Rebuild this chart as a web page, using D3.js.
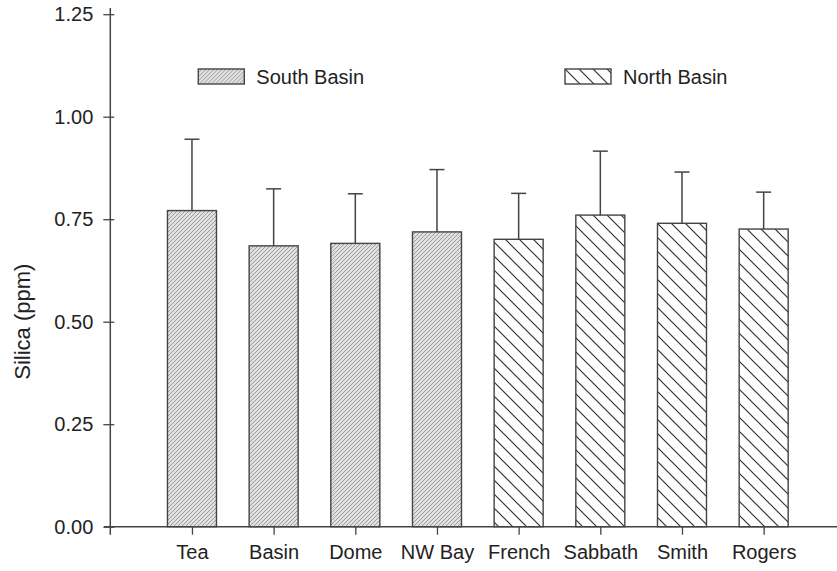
<!DOCTYPE html>
<html>
<head>
<meta charset="utf-8">
<script src="https://cdn.jsdelivr.net/npm/d3@7"></script>
<style>
  body { margin: 0; background: #fff; }
  svg text { font-family: "Liberation Sans", Arial, sans-serif; fill: #222; }
</style>
</head>
<body>
<div id="chart"></div>
<script>
// data
const sites = ["Tea", "Basin", "Dome", "NW Bay", "French", "Sabbath", "Smith", "Rogers"];
const basins = ["South", "South", "South", "South", "North", "North", "North", "North"];
const silica = [0.771, 0.685, 0.691, 0.719, 0.701, 0.760, 0.740, 0.726];
const silicaErr = [0.174, 0.139, 0.121, 0.152, 0.112, 0.156, 0.125, 0.090];
const yTicks = [0, 0.25, 0.5, 0.75, 1.0, 1.25];
const legendItems = ["South Basin", "North Basin"];

const w = 837, h = 571;
const x0 = 110.3, y0 = 526.7;

const svg = d3.select("#chart").append("svg")
  .attr("width", w)
  .attr("height", h);

// hatch patterns
const defs = svg.append("defs");
const south = defs.append("pattern")
  .attr("id", "south")
  .attr("patternUnits", "userSpaceOnUse")
  .attr("width", 4).attr("height", 4);
south.append("rect").attr("width", 4).attr("height", 4).attr("fill", "#e0e0e0");
south.append("path")
  .attr("d", "M-1,1 l2,-2 M0,4 l4,-4 M3,5 l2,-2")
  .attr("stroke", "#959595").attr("stroke-width", 0.9);

const north = defs.append("pattern")
  .attr("id", "north")
  .attr("patternUnits", "userSpaceOnUse")
  .attr("width", 14).attr("height", 14);
north.append("rect").attr("width", 14).attr("height", 14).attr("fill", "#fff");
north.append("path")
  .attr("d", "M-2,-2 L16,16 M-2,12 L2,16 M12,-2 L16,2")
  .attr("stroke", "#333").attr("stroke-width", 1.2);

const fills = { South: "url(#south)", North: "url(#north)" };

const xScale = d3.scalePoint()
  .domain(sites)
  .range([x0, x0 + 9 * 81.67])
  .padding(1);

const yScale = d3.scaleLinear()
  .domain([0, 1.25])
  .range([y0, 14.2]);

const barW = 49;

// bars
svg.selectAll("rect.bar")
  .data(sites)
  .enter()
  .append("rect")
  .attr("class", "bar")
  .attr("x", d => xScale(d) - barW / 2)
  .attr("y", (d, i) => yScale(silica[i]))
  .attr("width", barW)
  .attr("height", (d, i) => y0 - yScale(silica[i]))
  .attr("fill", (d, i) => fills[basins[i]])
  .attr("stroke", "#444")
  .attr("stroke-width", 1.4);

// error bars (upper only)
const err = svg.append("g").attr("stroke", "#444").attr("stroke-width", 1.5);
err.selectAll("line.stem")
  .data(sites)
  .enter()
  .append("line")
  .attr("x1", d => xScale(d)).attr("x2", d => xScale(d))
  .attr("y1", (d, i) => yScale(silica[i]))
  .attr("y2", (d, i) => yScale(silica[i] + silicaErr[i]));
err.selectAll("line.cap")
  .data(sites)
  .enter()
  .append("line")
  .attr("x1", d => xScale(d) - 7.5).attr("x2", d => xScale(d) + 7.5)
  .attr("y1", (d, i) => yScale(silica[i] + silicaErr[i]))
  .attr("y2", (d, i) => yScale(silica[i] + silicaErr[i]));

// axes
const axisB = d3.axisBottom(xScale).tickSizeInner(8).tickSizeOuter(0).tickPadding(10);
const gx = svg.append("g")
  .attr("transform", `translate(0,${y0})`)
  .call(axisB);
gx.select(".domain").remove();
gx.append("line")
  .attr("x1", 104).attr("x2", w + 10)
  .attr("stroke", "#444").attr("stroke-width", 1.5);
gx.selectAll(".tick line").attr("stroke", "#444").attr("stroke-width", 1.3);
gx.selectAll(".tick text")
  .style("font-size", "20px")
  .attr("fill", "#222")
  .attr("font-family", "Liberation Sans, Arial, sans-serif");

const axisL = d3.axisLeft(yScale).tickValues(yTicks).tickFormat(d3.format(".2f"))
  .tickSizeInner(7).tickSizeOuter(0).tickPadding(10);
const gy = svg.append("g")
  .attr("transform", `translate(${x0},0)`)
  .call(axisL);
gy.select(".domain").remove();
gy.append("line")
  .attr("y1", 8).attr("y2", y0 + 8)
  .attr("stroke", "#444").attr("stroke-width", 1.5);
gy.selectAll(".tick line").attr("x2", 4).attr("x1", -7)
  .attr("stroke", "#444").attr("stroke-width", 1.3);
gy.selectAll(".tick text")
  .style("font-size", "20px")
  .attr("fill", "#222")
  .attr("font-family", "Liberation Sans, Arial, sans-serif");

svg.append("text")
  .attr("transform", `translate(30,${yScale(0.5)}) rotate(-90)`)
  .attr("text-anchor", "middle")
  .style("font-size", "22px")
  .text("Silica (ppm)");

// legend
const legendX = [198.3, 565];
const leg = svg.selectAll("g.legend")
  .data(legendItems)
  .enter()
  .append("g")
  .attr("class", "legend")
  .attr("transform", (d, i) => `translate(${legendX[i]},69)`);
leg.append("rect")
  .attr("width", 46).attr("height", 15)
  .attr("fill", (d, i) => i === 0 ? fills.South : fills.North)
  .attr("stroke", "#444").attr("stroke-width", 1.4);
leg.append("text")
  .attr("x", 58).attr("y", 14.5)
  .style("font-size", "20px")
  .text(d => d);
</script>
</body>
</html>
